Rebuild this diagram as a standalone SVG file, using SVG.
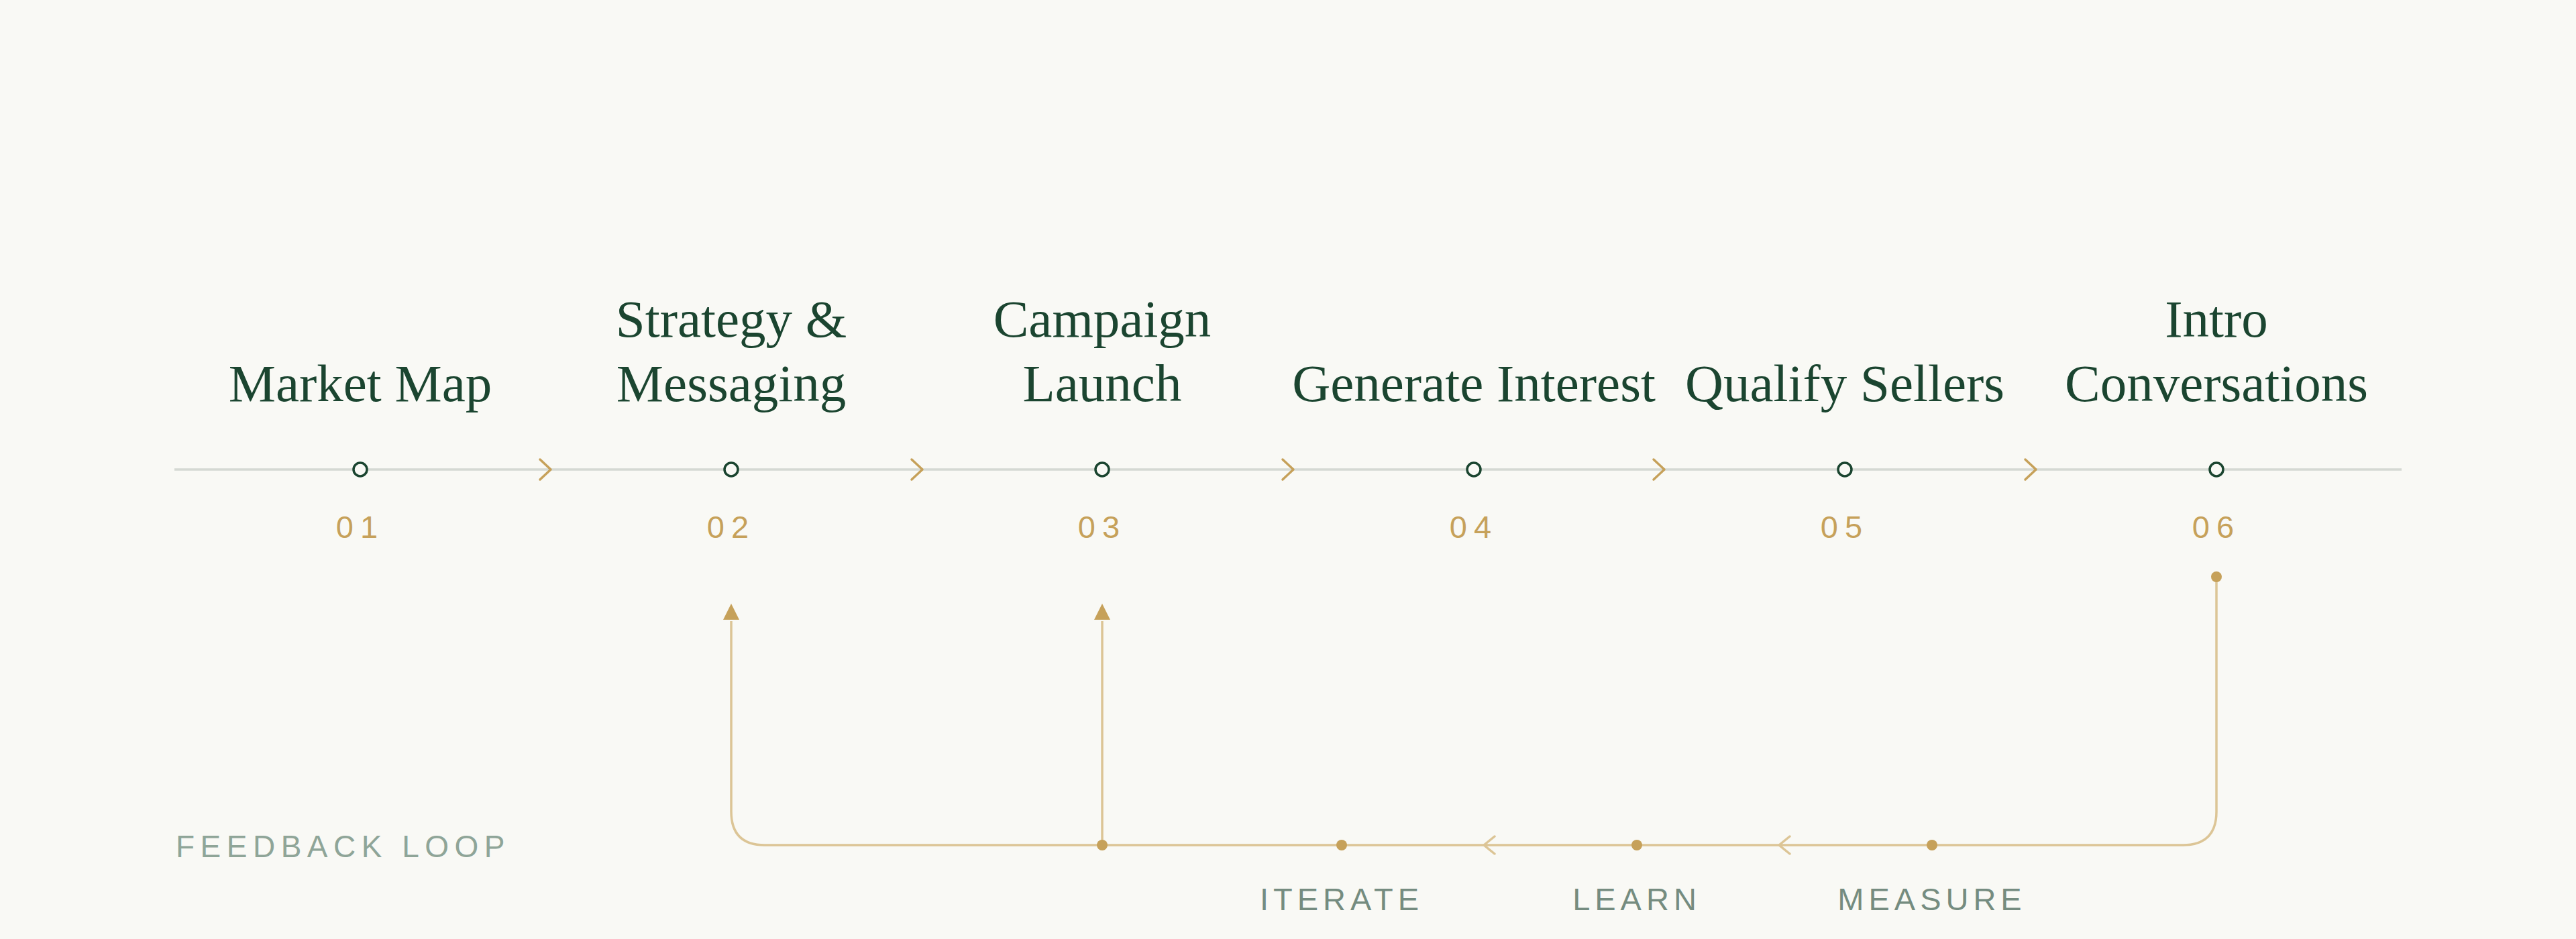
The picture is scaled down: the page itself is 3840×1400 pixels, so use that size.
<svg xmlns="http://www.w3.org/2000/svg" width="3840" height="1400" viewBox="0 0 3840 1400">
  <style>
    .title { font-family: "Liberation Serif", "Times New Roman", serif; font-size: 79px; fill: #1b4530; text-anchor: middle; }
    .num { font-family: "Liberation Sans", Arial, sans-serif; font-size: 47px; fill: #c6a15a; text-anchor: middle; letter-spacing: 10px; }
    .step { font-family: "Liberation Sans", Arial, sans-serif; font-size: 47px; fill: #758c80; text-anchor: middle; letter-spacing: 7px; }
    .label { font-family: "Liberation Sans", Arial, sans-serif; font-size: 46px; fill: #8fa598; letter-spacing: 8.5px; }
    .node-dot { fill: #f9f9f5; stroke: #1b4530; stroke-width: 3.5; }
    .axis { stroke: #d5d9d3; stroke-width: 3.5; fill: none; }
    .chev { stroke: #c6a15a; stroke-width: 3.5; fill: none; stroke-linecap: round; stroke-linejoin: round; }
    .loop { stroke: #dcc596; stroke-width: 3.5; fill: none; }
    .loop-chev { stroke: #dcc596; stroke-width: 3.5; fill: none; stroke-linecap: round; stroke-linejoin: round; }
    .gold-dot { fill: #c6a15a; }
    .arrowhead { fill: #c6a15a; }
  </style>
  <rect x="0" y="0" width="3840" height="1400" fill="#f9f9f5"/>

  <g id="connectors">
    <line class="axis" x1="260" y1="700" x2="3580" y2="700"/>
    <path class="chev" d="M805,685 L821,700 L805,715"/>
    <path class="chev" d="M1359,685 L1375,700 L1359,715"/>
    <path class="chev" d="M1912,685 L1928,700 L1912,715"/>
    <path class="chev" d="M2465,685 L2481,700 L2465,715"/>
    <path class="chev" d="M3019,685 L3035,700 L3019,715"/>
    <path class="loop" d="M3304,860 L3304,1210 Q3304,1260 3254,1260 L1140,1260 Q1090,1260 1090,1210 L1090,926"/>
    <path class="loop" d="M1643,1260 L1643,926"/>
    <path class="arrowhead" d="M1090,900 L1102,924 L1078,924 Z"/>
    <path class="arrowhead" d="M1643,900 L1655,924 L1631,924 Z"/>
    <path class="loop-chev" d="M2228,1247 L2212,1260 L2228,1273"/>
    <path class="loop-chev" d="M2668,1247 L2652,1260 L2668,1273"/>
    <circle class="gold-dot" cx="3304" cy="860" r="8"/>
    <circle class="gold-dot" cx="1643" cy="1260" r="8"/>
  </g>

  <g id="node-01">
    <text class="title" x="537" y="598">Market Map</text>
    <circle class="node-dot" cx="537" cy="700" r="10"/>
    <text class="num" x="537" y="802">01</text>
  </g>
  <g id="node-02">
    <text class="title" x="1090" y="502">Strategy &amp;</text>
    <text class="title" x="1090" y="598">Messaging</text>
    <circle class="node-dot" cx="1090" cy="700" r="10"/>
    <text class="num" x="1090" y="802">02</text>
  </g>
  <g id="node-03">
    <text class="title" x="1643" y="502">Campaign</text>
    <text class="title" x="1643" y="598">Launch</text>
    <circle class="node-dot" cx="1643" cy="700" r="10"/>
    <text class="num" x="1643" y="802">03</text>
  </g>
  <g id="node-04">
    <text class="title" x="2197" y="598">Generate Interest</text>
    <circle class="node-dot" cx="2197" cy="700" r="10"/>
    <text class="num" x="2197" y="802">04</text>
  </g>
  <g id="node-05">
    <text class="title" x="2750" y="598">Qualify Sellers</text>
    <circle class="node-dot" cx="2750" cy="700" r="10"/>
    <text class="num" x="2750" y="802">05</text>
  </g>
  <g id="node-06">
    <text class="title" x="3304" y="502">Intro</text>
    <text class="title" x="3304" y="598">Conversations</text>
    <circle class="node-dot" cx="3304" cy="700" r="10"/>
    <text class="num" x="3304" y="802">06</text>
  </g>

  <g id="feedback-label">
    <text class="label" x="262" y="1278">FEEDBACK LOOP</text>
  </g>
  <g id="step-iterate">
    <circle class="gold-dot" cx="2000" cy="1260" r="8"/>
    <text class="step" x="2000" y="1357">ITERATE</text>
  </g>
  <g id="step-learn">
    <circle class="gold-dot" cx="2440" cy="1260" r="8"/>
    <text class="step" x="2440" y="1357">LEARN</text>
  </g>
  <g id="step-measure">
    <circle class="gold-dot" cx="2880" cy="1260" r="8"/>
    <text class="step" x="2880" y="1357">MEASURE</text>
  </g>
</svg>
